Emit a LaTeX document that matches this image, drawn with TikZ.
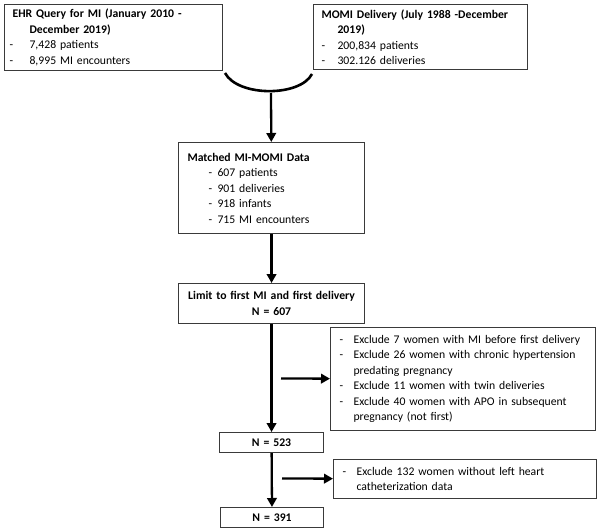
\documentclass[tikz,border=0pt]{standalone}
\usepackage{fontspec}
\setmainfont{Carlito}
\usepackage{tikz}
\usetikzlibrary{arrows.meta,positioning}
\definecolor{fcLine}{HTML}{3A3A3A}

\newcommand{\itm}[2]{\makebox[#1][l]{-}#2}

\begin{document}
\begin{tikzpicture}[
    x=1pt, y=-1pt,
    font=\fontsize{11.7}{15.5}\selectfont,
    >={Triangle[length=9pt,width=9.5pt]},
    fbox/.style={draw=fcLine, line width=1.1pt, anchor=north west,
                 inner xsep=5pt, inner ysep=2pt, align=left,
                 text width=#1},
    cbox/.style={draw=fcLine, line width=1.1pt, anchor=north west,
                 inner xsep=4pt, inner ysep=1pt, align=center,
                 font=\fontsize{11.7}{15.5}\selectfont\bfseries, text width=#1},
    arr/.style={->, line width=2.3pt, draw=black},
  ]
  \useasboundingbox (0,0) rectangle (600,530);
  % sources
  \node[fbox=208pt, minimum height=66pt] (ehr) at (4,4)
    {\hspace*{3pt}\textbf{EHR Query for MI (January 2010 -}\\
     \hspace*{20pt}\textbf{December 2019)}\\
     \itm{20pt}{7,428 patients}\\
     \itm{20pt}{8,995 MI encounters}};
  \node[fbox=204pt, minimum height=65pt] (momi) at (313,4)
    {\hspace*{3pt}\textbf{MOMI Delivery (July 1988 -December}\\
     \hspace*{19pt}\textbf{2019)}\\
     \hspace*{3pt}\itm{16pt}{200,834 patients}\\
     \hspace*{3pt}\itm{16pt}{302.126 deliveries}};
  % merge
  \coordinate (arcl) at (225,73);
  \coordinate (arcr) at (312,74);
  \coordinate (arcbot) at (271,93);
  \draw[line width=2.6pt] (arcl) .. controls (238,97) and (300,97) .. (arcr);
  % matched data
  \node[fbox=176pt, minimum height=91pt] (match) at (178,142)
    {\hspace*{4pt}\textbf{Matched MI-MOMI Data}\\
     \hspace*{25pt}\itm{9pt}{607 patients}\\
     \hspace*{25pt}\itm{9pt}{901 deliveries}\\
     \hspace*{25pt}\itm{9pt}{918 infants}\\
     \hspace*{25pt}\itm{9pt}{715 MI encounters}};
  \node[cbox=178pt, minimum height=40pt] (limit) at (178,283)
    {Limit to first MI and first delivery\\N = 607};
  % exclusions
  \node[fbox=255pt, minimum height=103pt] (excla) at (330,327)
    {\hspace*{4pt}\itm{14pt}{Exclude 7 women with MI before first delivery}\\
     \hspace*{4pt}\itm{14pt}{Exclude 26 women with chronic hypertension}\\
     \hspace*{18pt}predating pregnancy\\
     \hspace*{4pt}\itm{14pt}{Exclude 11 women with twin deliveries}\\
     \hspace*{4pt}\itm{14pt}{Exclude 40 women with APO in subsequent}\\
     \hspace*{18pt}pregnancy (not first)};
  \node[cbox=96pt, minimum height=20pt] (nmid) at (219,432) {N = 523};
  \node[fbox=253pt, minimum height=39pt] (exclb) at (333,459)
    {\hspace*{4pt}\itm{14pt}{Exclude 132 women without left heart}\\
     \hspace*{18pt}catheterization data};
  \node[cbox=95pt, minimum height=20pt] (nend) at (220,507) {N = 391};
  % arrows
  \coordinate (ha) at (281,378.5);
  \coordinate (hb) at (282,478.5);
  \draw[arr] (arcbot) -- (match);
  \draw[arr] (match) -- (limit);
  \draw[arr] (limit) -- (nmid);
  \draw[arr] (ha) -- (excla);
  \draw[arr] (nmid) -- (nend);
  \draw[arr] (hb) -- (exclb);
\end{tikzpicture}
\end{document}
